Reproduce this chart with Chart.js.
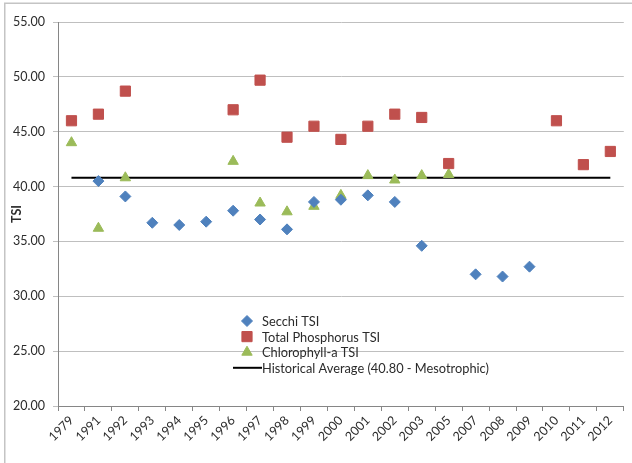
<!DOCTYPE html>
<html>
<head>
<meta charset="utf-8">
<script src="https://cdn.jsdelivr.net/npm/chart.js@4/dist/chart.umd.min.js"></script>
<style>
  html, body { margin: 0; padding: 0; background: #fff; }
  canvas { display: block; }
</style>
</head>
<body>
<canvas id="tsiChart" width="632" height="463"></canvas>
<script>
const years = ['1979', '1991', '1992', '1993', '1994', '1995', '1996', '1997', '1998', '1999', '2000',
  '2001', '2002', '2003', '2005', '2007', '2008', '2009', '2010', '2011', '2012'];

const secchi = [null, 40.5, 39.1, 36.7, 36.5, 36.8, 37.8, 37.0, 36.1, 38.6, 38.8,
  39.2, 38.6, 34.6, null, 32.0, 31.8, 32.7, null, null, null];
const phosphorus = [46.0, 46.6, 48.7, null, null, null, 47.0, 49.7, 44.5, 45.5, 44.3,
  45.5, 46.6, 46.3, 42.1, null, null, null, 46.0, 42.0, 43.2];
const chlorophyll = [44.0, 36.2, 40.8, null, null, null, 42.3, 38.5, 37.7, 38.2, 39.2,
  41.0, 40.6, 41.0, 41.1, null, null, null, null, null, null];
const historicalAvg = 40.80;

const yTicks = { min: 20, max: 55, step: 5 };

const font = "Lato, 'Open Sans', sans-serif";
const textColor = '#2b2b2b';

// grey frame round the picture, like the pasted Excel chart
const framePlugin = {
  id: 'frame',
  beforeDraw(chart) {
    const ctx = chart.ctx;
    ctx.save();
    ctx.strokeStyle = '#c4c4c4';
    ctx.lineWidth = 1.5;
    ctx.beginPath();
    ctx.moveTo(4.75, chart.height);
    ctx.lineTo(4.75, 3.25);
    ctx.lineTo(chart.width, 3.25);
    ctx.stroke();
    ctx.restore();
  }
};

// legend sits inside the plot area, Excel style
const insideLegend = {
  id: 'insideLegend',
  afterDraw(chart) {
    const ctx = chart.ctx;
    const markX = 247, textX = 262, top = 321, rowH = 15.6;
    ctx.save();
    ctx.font = '12.8px ' + font;
    ctx.textBaseline = 'middle';
    ctx.fillStyle = textColor;
    chart.data.datasets.forEach((ds, i) => {
      const y = top + i * rowH;
      if (ds.showLine === false) {
        ctx.fillStyle = ds.backgroundColor;
        ctx.strokeStyle = ds.borderColor;
        ctx.lineWidth = 1;
        Chart.helpers.drawPoint(ctx, { pointStyle: ds.pointStyle, radius: ds.pointRadius, rotation: 0, borderWidth: 1 }, markX, y);
      } else {
        ctx.strokeStyle = ds.borderColor;
        ctx.lineWidth = ds.borderWidth;
        ctx.beginPath();
        ctx.moveTo(233, y);
        ctx.lineTo(textX, y);
        ctx.stroke();
      }
      ctx.fillStyle = textColor;
      ctx.fillText(ds.label, textX, y + 1);
    });
    ctx.restore();
  }
};

const ctx = document.getElementById('tsiChart').getContext('2d');
new Chart(ctx, {
  type: 'line',
  data: {
    labels: years,
    datasets: [
      {
        label: 'Secchi TSI',
        data: secchi,
        showLine: false,
        pointStyle: 'rectRot',
        pointRadius: 5.5,
        backgroundColor: '#4F81BD',
        borderColor: '#4F81BD',
        borderWidth: 1
      },
      {
        label: 'Total Phosphorus TSI',
        data: phosphorus,
        showLine: false,
        pointStyle: 'rect',
        pointRadius: 7.2,
        backgroundColor: '#C0504D',
        borderColor: '#C0504D',
        borderWidth: 1
      },
      {
        label: 'Chlorophyll-a TSI',
        data: chlorophyll,
        showLine: false,
        pointStyle: 'triangle',
        pointRadius: 6,
        backgroundColor: '#9BBB59',
        borderColor: '#9BBB59',
        borderWidth: 1
      },
      {
        label: 'Historical Average (40.80 - Mesotrophic)',
        data: years.map(() => historicalAvg),
        borderColor: '#000000',
        borderWidth: 2,
        pointRadius: 0
      }
    ]
  },
  options: {
    responsive: false,
    animation: false,
    layout: { padding: { top: 22, right: 4, left: 0, bottom: 0 } },
    plugins: {
      legend: { display: false },
      tooltip: { enabled: false }
    },
    scales: {
      x: {
        offset: true,
        grid: {
          offset: true,
          drawOnChartArea: false,
          drawTicks: true,
          tickLength: 5,
          color: '#868686'
        },
        border: { color: '#868686' },
        ticks: {
          autoSkip: false,
          minRotation: 45,
          maxRotation: 45,
          padding: 2,
          color: textColor,
          font: { family: font, size: 12.5 }
        },
        afterFit: s => { s.height = 57; }
      },
      y: {
        min: yTicks.min,
        max: yTicks.max,
        grid: {
          color: '#bfbfbf',
          tickLength: 5
        },
        border: { color: '#868686' },
        ticks: {
          stepSize: yTicks.step,
          padding: 8,
          color: textColor,
          font: { family: font, size: 12.5 },
          callback: v => v.toFixed(2)
        },
        title: {
          display: true,
          text: 'TSI',
          color: textColor,
          padding: { top: 9, bottom: 0 },
          font: { family: font, size: 12.5, weight: 'bold' }
        },
        afterFit: s => { s.width = 58; }
      }
    }
  },
  plugins: [framePlugin, insideLegend]
});
</script>
</body>
</html>
